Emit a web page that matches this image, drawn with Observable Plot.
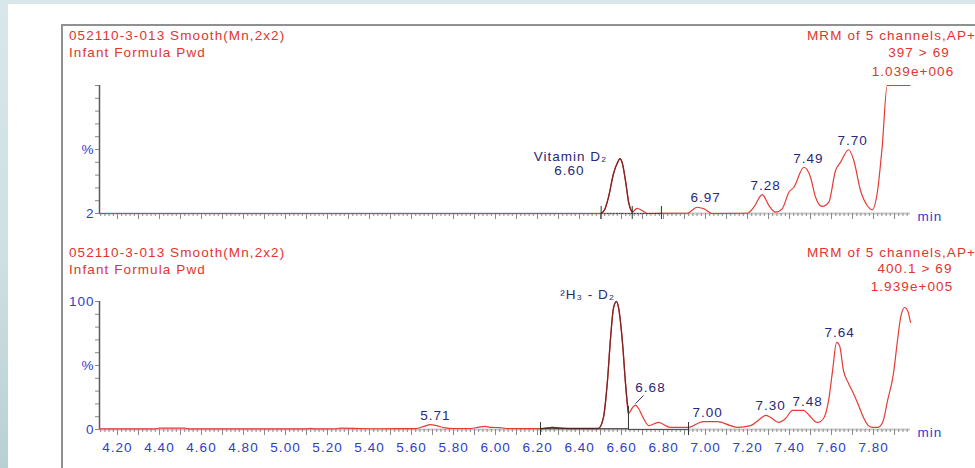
<!DOCTYPE html>
<html><head><meta charset="utf-8">
<script src="https://cdn.jsdelivr.net/npm/d3@7"></script>
<script src="https://cdn.jsdelivr.net/npm/@observablehq/plot@0.6"></script>
<style>
html,body{margin:0;padding:0;}
body{width:975px;height:468px;overflow:hidden;position:relative;
 background:linear-gradient(180deg,#d8e7ea 0%,#cde0e2 55%,#b9d0d2 100%);
 font-family:"Liberation Sans",Arial,sans-serif;}
#sheet{position:absolute;left:8px;top:4px;right:0;bottom:0;background:#fff;}
#frame{position:absolute;left:61px;top:24px;width:930px;height:460px;border-left:2px solid #909090;border-top:2px solid #909090;}
.hdr{position:absolute;font-size:13.5px;letter-spacing:1.1px;color:#e3342e;line-height:16px;white-space:nowrap;}
.c{width:200px;text-align:center;}
.panel{position:absolute;left:0;}
</style></head><body>
<div id="sheet"></div><div id="frame"></div>
<div id="root"></div>
<script>
// ---------- data ----------
const X_DOMAIN = [4.1143, 7.976];

const topHeaderLeft = ["052110-3-013 Smooth(Mn,2x2)", "Infant Formula Pwd"];
const topHeaderRight = ["MRM of 5 channels,AP+", "397 > 69", "1.039e+006"];
const bottomHeaderLeft = ["052110-3-013 Smooth(Mn,2x2)", "Infant Formula Pwd"];
const bottomHeaderRight = ["MRM of 5 channels,AP+", "400.1 > 69", "1.939e+005"];

// top trace (397 > 69), % intensity
const topTime = [4.114, 6.490, 6.503, 6.520, 6.538, 6.562, 6.581, 6.592, 6.603, 6.619, 6.635, 6.651, 6.674, 6.698, 6.722, 6.913, 6.960, 6.992, 7.032, 7.199, 7.230, 7.270, 7.302, 7.333, 7.365, 7.397, 7.421, 7.468, 7.500, 7.524, 7.556, 7.587, 7.619, 7.643, 7.682, 7.706, 7.738, 7.770, 7.794, 7.817, 7.841, 7.865, 7.973];
const topValue = [2, 2, 2.2, 5, 14.5, 32.6, 41, 43.9, 41, 27, 9.7, 3, 6, 4.3, 2, 2.2, 6.8, 5.6, 2, 2.2, 6.8, 16.5, 8.1, 3, 5.6, 18.3, 22.1, 37.4, 29.8, 14.5, 7.4, 10.7, 34.9, 41.3, 50.8, 42.6, 19.6, 8.1, 4.8, 17.1, 52.8, 100, 100];
const topPeakRange = [6.503, 6.651];
const topIntegration = [6.503, 6.651, 6.790];
const topLabels = ["Vitamin D\u2082", "6.60", "6.97", "7.28", "7.49", "7.70"];
const topLabelTime = [6.357, 6.352, 7.0, 7.286, 7.49, 7.70];
const topLabelValue = [45.6, 34.9, 14.2, 23.4, 44.1, 57.9];

// bottom trace (400.1 > 69), % intensity
const bottomTime = [4.114, 4.380, 4.400, 4.520, 4.540, 5.100, 5.120, 5.140, 5.240, 5.260, 5.450, 5.620, 5.660, 5.690, 5.720, 5.760, 5.800, 5.880, 5.920, 5.950, 5.980, 6.020, 6.050, 6.214, 6.240, 6.270, 6.300, 6.350, 6.490, 6.514, 6.533, 6.548, 6.562, 6.576, 6.586, 6.605, 6.619, 6.633, 6.652, 6.667, 6.681, 6.705, 6.729, 6.776, 6.833, 6.919, 6.962, 6.990, 7.057, 7.119, 7.152, 7.214, 7.262, 7.286, 7.310, 7.348, 7.381, 7.414, 7.467, 7.490, 7.533, 7.562, 7.586, 7.605, 7.624, 7.638, 7.657, 7.681, 7.705, 7.729, 7.752, 7.776, 7.795, 7.819, 7.843, 7.867, 7.895, 7.914, 7.929, 7.948, 7.962, 7.976];
const bottomValue = [0.5, 0.5, 1.0, 1.0, 0.5, 0.5, 0.9, 0.5, 0.6, 1.0, 0.6, 0.7, 2.5, 3.8, 3.0, 1.2, 0.8, 0.8, 1.8, 2.5, 1.6, 1.5, 0.8, 0.7, 1.0, 1.6, 1.2, 0.8, 0.8, 9.4, 38, 72, 95, 100, 95, 67, 36, 12.5, 17, 19, 16.4, 8.6, 3, 5.5, 1.6, 1.6, 4.7, 6.2, 6.2, 3, 1.6, 3, 8.6, 11, 9.4, 5.5, 8.6, 15, 15, 11.7, 5.5, 8.6, 22.7, 46, 68, 65.6, 46, 36, 28, 18.8, 9.4, 3, 1.6, 1.6, 5.5, 22.7, 43.8, 69.5, 87.5, 95.3, 93, 83.6];
const bottomPeakRange = [6.214, 6.633];
const bottomIntegration = [6.214, 6.633, 6.919];
const bottomLabels = ["\u00B2H\u2083 - D\u2082", "6.68", "5.71", "7.00", "7.30", "7.48", "7.64"];
const bottomLabelTime = [6.438, 6.738, 5.714, 7.010, 7.31, 7.486, 7.638];
const bottomLabelValue = [105.5, 32.8, 10.9, 13.3, 18.75, 21.9, 75.8];
const bottomLeader = [{t1: 6.705, v1: 26.6, t2: 6.667, v2: 20.3}];

const xMinorTicks = d3.range(206, 399).map(i => i / 50);
const xMajorTicks = d3.range(42, 80).map(i => i / 10);
const xLabelTicks = d3.range(21, 40).map(i => i / 5);
const topYTicks = d3.range(11).map(i => 2 + i * 9.8);
const topYLabels = new Map([[2, "2"], [51, "%"]]);
const bottomYTicks = d3.range(0, 101, 10);
const bottomYLabels = new Map([[0, "0"], [50, "%"], [100, "100"]]);

// ---------- styles ----------
const RED = "#e53b34", DARK = "#7e2424", NAVY = "#27287a", BLUE = "#2f3ccc", TICK = "#8a8a8a";

const root = document.getElementById("root");
function hdr(text, css, cls) {
  const d = document.createElement("div");
  d.className = "hdr" + (cls ? " " + cls : "");
  d.textContent = text;
  Object.assign(d.style, css);
  root.appendChild(d);
}
// top headers
hdr(topHeaderLeft[0], {left: "69px", top: "28px"});
hdr(topHeaderLeft[1], {left: "69px", top: "45px"});
hdr(topHeaderRight[0], {left: "807px", top: "28px"});
hdr(topHeaderRight[1], {left: "819px", top: "45px"}, "c");
hdr(topHeaderRight[2], {left: "813px", top: "64px"}, "c");
// bottom headers
hdr(bottomHeaderLeft[0], {left: "69px", top: "245px"});
hdr(bottomHeaderLeft[1], {left: "69px", top: "262px"});
hdr(bottomHeaderRight[0], {left: "807px", top: "245px"});
hdr(bottomHeaderRight[1], {left: "815px", top: "261px"}, "c");
hdr(bottomHeaderRight[2], {left: "812px", top: "279px"}, "c");

function panel(cfg) {
  const data = cfg.time.map((t, i) => ({t, v: cfg.value[i]}));
  const peak = data.filter(d => d.t >= cfg.peakRange[0] - 1e-9 && d.t <= cfg.peakRange[1] + 1e-9);
  const labels = cfg.labels.map((s, i) => ({s, t: cfg.labelTime[i], v: cfg.labelValue[i]}));
  const y0 = cfg.yDomain[0];
  const marks = [
    Plot.ruleY([y0], {stroke: "#c9c9c9", strokeWidth: 2}),
    Plot.axisX(xMinorTicks, {anchor: "bottom", tickSize: 3, tickFormat: () => "", label: null, stroke: TICK}),
    Plot.axisX(xMajorTicks, {anchor: "bottom", tickSize: 6, tickFormat: () => "", label: null, stroke: TICK}),
    Plot.axisY(cfg.yTicks, {anchor: "left", tickSize: 4, tickFormat: () => "", label: null, stroke: TICK}),
    Plot.axisY([...cfg.yLabels.keys()], {anchor: "left", tickSize: 0, tickPadding: 5, tickFormat: d => cfg.yLabels.get(d), label: null, color: BLUE}),
    Plot.ruleX([X_DOMAIN[0]], {stroke: "#5a5a5a", strokeWidth: 1.5}),
    Plot.line(data, {x: "t", y: "v", stroke: RED, strokeWidth: 1.2, curve: "monotone-x"}),
    Plot.line(peak, {x: "t", y: "v", stroke: DARK, strokeWidth: 1.3, curve: "monotone-x"}),
    ...cfg.integrationMarks,
    Plot.text(labels, {x: "t", y: "v", text: "s", fill: NAVY, textAnchor: "middle"}),
    Plot.text(["min"], {x: X_DOMAIN[1], y: y0, text: d => d, textAnchor: "start", dx: 7, dy: 3, fill: BLUE})
  ];
  if (cfg.withLabels) {
    marks.push(Plot.axisX(xLabelTicks, {anchor: "bottom", tickSize: 0, tickPadding: 13, tickFormat: d => d.toFixed(2), label: null, color: BLUE}));
  }
  if (cfg.extra) marks.push(...cfg.extra);
  const svg = Plot.plot({
    width: 975, height: cfg.height,
    marginLeft: 99, marginRight: 65, marginTop: cfg.mt, marginBottom: cfg.mb,
    x: {domain: X_DOMAIN},
    y: {domain: cfg.yDomain},
    style: {background: "transparent", overflow: "visible", fontFamily: "'Liberation Sans', Arial, sans-serif", fontSize: "13.5px", letterSpacing: "1px"},
    marks
  });
  svg.classList.add("panel");
  svg.style.top = cfg.top + "px";
  root.appendChild(svg);
}

panel({
  top: 0, height: 232, mt: 85, mb: 19,
  time: topTime, value: topValue, peakRange: topPeakRange,
  yDomain: [2, 100], yTicks: topYTicks, yLabels: topYLabels,
  labels: topLabels, labelTime: topLabelTime, labelValue: topLabelValue,
  withLabels: false,
  integrationMarks: [
    Plot.ruleY([2], {x1: topIntegration[0], x2: topIntegration[2], stroke: "#3a3a3a", strokeWidth: 1, strokeDasharray: "2,1"}),
    Plot.ruleX(topIntegration, {y1: 2, y2: 2, insetTop: -7, insetBottom: -6, stroke: "#333", strokeWidth: 1})
  ]
});

panel({
  top: 232, height: 236, mt: 69, mb: 39,
  time: bottomTime, value: bottomValue, peakRange: bottomPeakRange,
  yDomain: [0, 100], yTicks: bottomYTicks, yLabels: bottomYLabels,
  labels: bottomLabels, labelTime: bottomLabelTime, labelValue: bottomLabelValue,
  withLabels: true,
  integrationMarks: [
    Plot.ruleY([0.6], {x1: bottomIntegration[0], x2: bottomIntegration[1], stroke: "#3a2a2a", strokeWidth: 1.2}),
    Plot.ruleY([0], {x1: bottomIntegration[1], x2: bottomIntegration[2], stroke: "#555", strokeWidth: 1}),
    Plot.ruleX([bottomIntegration[0], bottomIntegration[2]], {y1: 0, y2: 0, insetTop: -7, insetBottom: -6, stroke: "#333", strokeWidth: 1}),
    Plot.ruleX([bottomIntegration[1]], {y1: 0, y2: 0, insetTop: -23, insetBottom: 0, stroke: "#333", strokeWidth: 1})
  ],
  extra: [
    Plot.link(bottomLeader, {x1: "t1", y1: "v1", x2: "t2", y2: "v2", stroke: NAVY, strokeWidth: 1})
  ]
});
</script>
</body></html>
